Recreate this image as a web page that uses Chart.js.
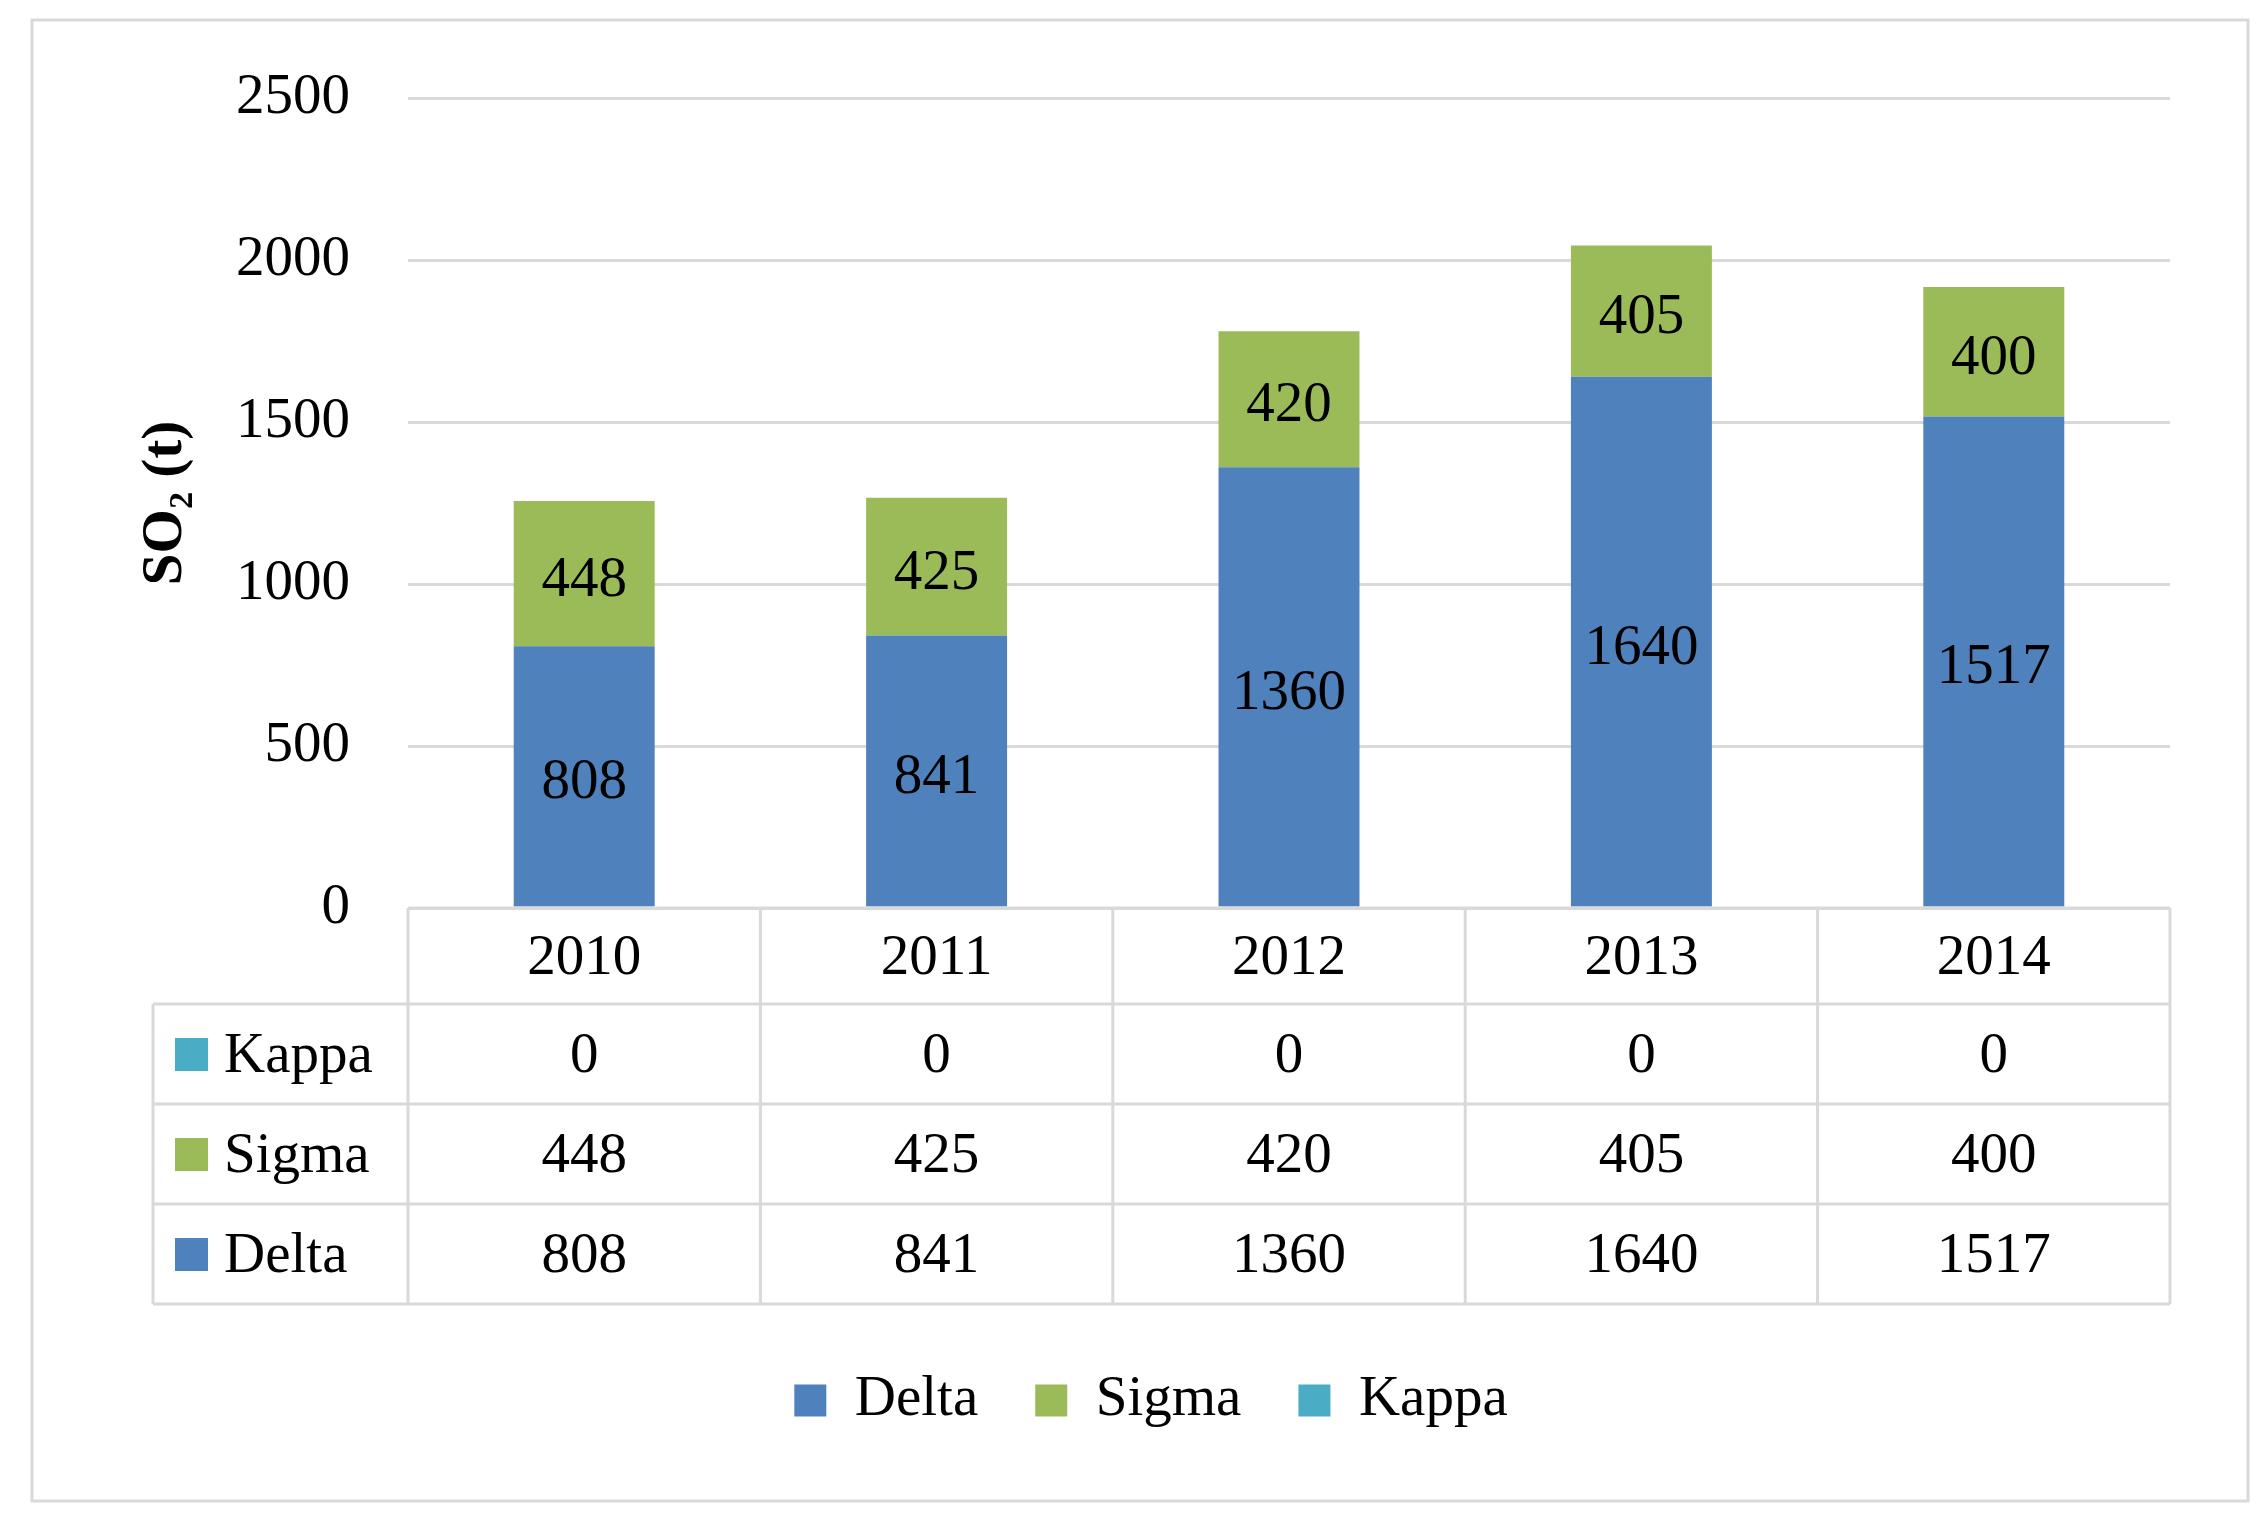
<!DOCTYPE html>
<html><head><meta charset="utf-8">
<script src="https://cdn.jsdelivr.net/npm/chart.js@4.4.1/dist/chart.umd.min.js"></script>
<style>html,body{margin:0;padding:0;background:#fff;} #wrap{position:relative;width:2268px;height:1523px;}</style>
</head><body><div id="wrap"><canvas id="c"></canvas></div>
<script>
// ---- data ----
const years = ['2010', '2011', '2012', '2013', '2014'];
const deltaValues = [808, 841, 1360, 1640, 1517];
const sigmaValues = [448, 425, 420, 405, 400];
const kappaValues = [0, 0, 0, 0, 0];
const seriesNames = ['Delta', 'Sigma', 'Kappa'];
const seriesColors = ['#4F81BD', '#9BBB59', '#4BACC6'];
const yMin = 0, yMax = 2500, yStep = 500;
const yAxisTitle = 'SO\u2082 (t)';

const FONT = "'Liberation Serif', 'Times New Roman', serif";
const FS = 57;
const GRID = '#D9D9D9';

const framePlugin = {
  id: 'frame',
  beforeDraw(chart) {
    const ctx = chart.ctx;
    ctx.save();
    ctx.fillStyle = '#fff';
    ctx.fillRect(0, 0, chart.width, chart.height);
    ctx.strokeStyle = GRID;
    ctx.lineWidth = 3;
    ctx.strokeRect(32, 20, 2216, 1481);
    ctx.restore();
  }
};

const labelPlugin = {
  id: 'segLabels',
  afterDatasetsDraw(chart) {
    const ctx = chart.ctx;
    ctx.save();
    ctx.font = FS + 'px ' + FONT;
    ctx.fillStyle = '#000';
    ctx.textAlign = 'center';
    ctx.textBaseline = 'middle';
    chart.data.datasets.forEach((ds, di) => {
      const meta = chart.getDatasetMeta(di);
      meta.data.forEach((el, i) => {
        const v = ds.data[i];
        if (!v) return;
        ctx.fillText(String(v), el.x, (el.y + el.base) / 2 + 7);
      });
    });
    ctx.restore();
  }
};

const tablePlugin = {
  id: 'dataTable',
  afterDraw(chart) {
    const ctx = chart.ctx;
    const area = chart.chartArea;
    const xs = chart.scales.x;
    const n = chart.data.labels.length;
    const colW = (area.right - area.left) / n;
    const top = area.bottom;
    const headerH = 96, rowH = 100;
    const tableLeft = 153;
    const rows = chart.data.datasets.slice().reverse();
    const bottom = top + headerH + rows.length * rowH;
    ctx.save();
    ctx.strokeStyle = GRID;
    ctx.lineWidth = 3;
    ctx.beginPath();
    ctx.moveTo(area.left, top); ctx.lineTo(area.right, top);
    for (let k = 0; k <= rows.length; k++) {
      const y = top + headerH + k * rowH;
      ctx.moveTo(tableLeft, y); ctx.lineTo(area.right, y);
    }
    for (let i = 0; i <= n; i++) {
      const x = area.left + i * colW;
      ctx.moveTo(x, top); ctx.lineTo(x, bottom);
    }
    ctx.moveTo(tableLeft, top + headerH); ctx.lineTo(tableLeft, bottom);
    ctx.stroke();

    ctx.font = FS + 'px ' + FONT;
    ctx.fillStyle = '#000';
    ctx.textBaseline = 'middle';
    ctx.textAlign = 'center';
    chart.data.labels.forEach((lab, i) => {
      ctx.fillText(lab, xs.getPixelForValue(i), top + headerH / 2 + 3);
    });
    rows.forEach((ds, r) => {
      const cy = top + headerH + r * rowH + rowH / 2;
      ctx.fillStyle = ds.backgroundColor;
      ctx.fillRect(175, cy - 16, 33, 33);
      ctx.fillStyle = '#000';
      ctx.textAlign = 'left';
      ctx.fillText(ds.label, 224, cy + 3);
      ctx.textAlign = 'center';
      ds.data.forEach((v, i) => {
        ctx.fillText(String(v), xs.getPixelForValue(i), cy + 3);
      });
    });
    ctx.restore();
  }
};

const valuesBySeries = [deltaValues, sigmaValues, kappaValues];

new Chart(document.getElementById('c'), {
  type: 'bar',
  data: {
    labels: years,
    datasets: seriesNames.map((name, k) => ({
      label: name,
      data: valuesBySeries[k],
      backgroundColor: seriesColors[k],
      borderWidth: 0,
      categoryPercentage: 1.0,
      barPercentage: 0.4
    }))
  },
  options: {
    responsive: true,
    maintainAspectRatio: false,
    devicePixelRatio: 1,
    animation: false,
    layout: { padding: { left: 132, right: 98, top: 98, bottom: 84 } },
    plugins: {
      tooltip: { enabled: false },
      legend: {
        position: 'bottom',
        labels: {
          font: { family: FONT, size: FS },
          color: '#000',
          boxWidth: 32,
          boxHeight: 32,
          padding: 57
        }
      }
    },
    scales: {
      x: {
        stacked: true,
        grid: { display: false },
        border: { display: false },
        ticks: { display: false },
        afterFit(scale) { scale.height = 407; }
      },
      y: {
        stacked: true,
        min: yMin, max: yMax,
        ticks: {
          stepSize: yStep,
          padding: 58,
          color: '#000',
          font: { family: FONT, size: FS },
          callback: (v) => String(v)
        },
        grid: { color: GRID, lineWidth: 3, drawTicks: false },
        border: { display: false },
        title: {
          display: true,
          text: yAxisTitle,
          color: '#000',
          font: { family: FONT, size: FS, weight: 'bold' },
          padding: { top: 0, bottom: 0 }
        },
        afterFit(scale) { scale.width = 276; }
      }
    }
  },
  plugins: [framePlugin, labelPlugin, tablePlugin]
});
</script>
</body></html>
